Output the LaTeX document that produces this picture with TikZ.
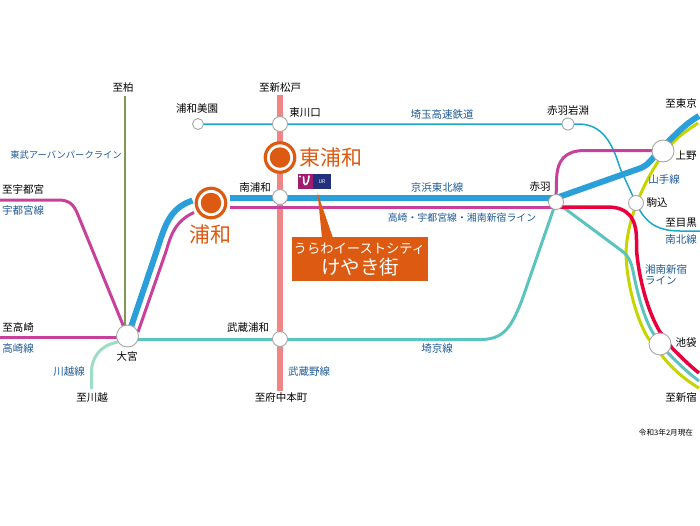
\documentclass[tikz,border=0pt]{standalone}
\usepackage{fontspec}
\setmainfont{Noto Sans CJK JP}
\definecolor{lblue}{HTML}{1F5A96}
\definecolor{orng}{HTML}{DD5A12}
\definecolor{keihin}{HTML}{2B9FD9}
\definecolor{mag}{HTML}{C9409A}
\definecolor{salmon}{HTML}{F08585}
\definecolor{saitama}{HTML}{1AA7C9}
\definecolor{saikyo}{HTML}{5CC4BE}
\definecolor{kawagoe}{HTML}{9EDCC4}
\definecolor{shonan}{HTML}{E8003C}
\definecolor{yama}{HTML}{C6D400}
\definecolor{tobu}{HTML}{7F9A50}
\definecolor{urmag}{HTML}{A01C6E}
\definecolor{urnavy}{HTML}{23307E}
\tikzset{
  stn/.style={circle,draw=black!35,line width=0.9pt,fill=white,inner sep=0pt,minimum size=#1},
  lab/.style={font=\fontsize{10.5}{12}\selectfont,text=black,inner sep=0pt},
  linelab/.style={font=\fontsize{10.5}{12}\selectfont,text=lblue,inner sep=0pt},
  big/.style={font=\fontsize{21}{23}\selectfont,text=orng,inner sep=0pt},
  rail/.style={line width=#1,line cap=butt},
  ringdot/.style={circle,fill=orng,inner sep=0pt,minimum size=20.5pt},
  ring/.style={circle,draw=orng,line width=3.2pt,fill=white,inner sep=0pt,minimum size=29.5pt}
}
\begin{document}
\begin{tikzpicture}[x=1pt,y=-1pt]
\useasboundingbox (0,0) rectangle (700,525);
% free ends
\coordinate (kashiwa) at (125,96);
\coordinate (tobuEnd) at (125,327);
\coordinate (matsudo) at (280,95);
\coordinate (fuchu) at (280,391);
\coordinate (meguro) at (700,231);
\coordinate (utsu) at (0,200);
\coordinate (taka) at (0,337.5);
\coordinate (kawaEnd) at (91.5,389);
\coordinate (keiA) at (192.5,200.5);
\coordinate (keiB) at (230,198);
\coordinate (magA) at (194,212.5);
\coordinate (magB) at (230,207);
\coordinate (tokyoK) at (699,116);
\coordinate (tokyoY) at (698,123);
\coordinate (ikeR) at (699,373);
\coordinate (ikeT) at (699,381);
\coordinate (ikeY) at (699,388);
% station positions
\path
 (198,124) coordinate (misono)
 (280,124) coordinate (higashikawa)
 (280,197) coordinate (minamiura)
 (280,339) coordinate (musashiura)
 (127.5,336) coordinate (omiya)
 (556,202) coordinate (akabane)
 (663,151) coordinate (ueno)
 (636,203) coordinate (komagome)
 (660,344) coordinate (ikebukuro)
 (568,124) coordinate (iwabuchi);
% lines
\draw[tobu,rail=1.2pt] (kashiwa) -- (tobuEnd);
\draw[salmon,rail=6pt] (matsudo) -- (fuchu);
\draw[saitama,rail=1.5pt] (misono) -- (iwabuchi) -- (578,124)
  .. controls (602,124) and (612,142) .. (620,168) -- (komagome)
  .. controls (644,220) and (654,231) .. (680,231) -- (meguro);
\draw[kawagoe,rail=3pt] (118,342) .. controls (100,345) and (91.5,358) .. (91.5,372) -- (kawaEnd);
\draw[mag,rail=3pt] (utsu) -- (58,200) .. controls (70,200) and (74,205) .. (78,215) -- (omiya);
\draw[mag,rail=3pt] (taka) -- (omiya |- taka);
\draw[saikyo,rail=3pt] (omiya |- 0,339.5) -- (481,339.5) .. controls (505,339.5) and (512,325) .. (522,300) -- (akabane);
\draw[keihin,rail=6pt] (131,327) -- (157,250) .. controls (165,225) and (170,208) .. (keiA);
\draw[mag,rail=3pt] (138,332) -- (166.5,250) .. controls (172,230) and (178,220) .. (magA);
\draw[mag,rail=3pt] (magB) -- (akabane |- magB);
\draw[mag,rail=3pt] (akabane) -- (556.5,180) .. controls (557,160) and (565,150.5) .. (585,150.5) -- (ueno |- 0,150.5);
\draw[yama,rail=3pt] (tokyoY) .. controls (688,130) and (678,136) .. (668,148) .. controls (650,170) and (626,215) .. (626,255)
  .. controls (627,285) and (637,320) .. (648,338) -- (663,357) .. controls (672,368) and (685,380) .. (ikeY);
\draw[saikyo,rail=3pt] (akabane) -- (622,251) .. controls (630,257) and (632,265) .. (634,276)
  .. controls (638,295) and (644,318) .. (653,333) -- (668,353) .. controls (677,362) and (688,373) .. (ikeT);
\draw[shonan,rail=3.5pt] (akabane |- 0,207) -- (607,207) .. controls (628,207) and (636.5,218) .. (636.5,240)
  -- (636.5,250) .. controls (639,280) and (648,312) .. (660,332) -- (672,348) .. controls (680,356) and (690,366) .. (ikeR);
\draw[keihin,rail=6pt] (keiB) -- (akabane |- keiB) -- (641,168) .. controls (650,164) and (652,158) .. (660,150)
  .. controls (675,135) and (685,124) .. (tokyoK);
% stations
\node[stn=11pt] (nMisono) at (misono) {};
\node[stn=15pt] (nHigashikawa) at (higashikawa) {};
\node[stn=15pt] (nMinamiura) at (minamiura) {};
\node[stn=15pt] (nMusashiura) at (musashiura) {};
\node[stn=22pt] (nOmiya) at (omiya) {};
\node[stn=15pt] (nAkabane) at (akabane) {};
\node[stn=22pt] (nUeno) at (ueno) {};
\node[stn=15pt] (nKomagome) at (komagome) {};
\node[stn=22pt] (nIkebukuro) at (ikebukuro) {};
\node[stn=12pt] (nIwabuchi) at (iwabuchi) {};
% destination stations
\node[ring] (higashiura) at (280,157.5) {};
\node[ringdot] (hdot) at (higashiura) {};
\node[ring] (urawa) at (211,203) {};
\node[ringdot] (udot) at (urawa) {};
% UR logo
\fill[urmag] (297.5,174) rectangle (313,188.7);
\fill[urnavy] (313,174) rectangle (330.7,188.7);
\draw[white,line width=1.6pt,line cap=round] (303.5,177) -- (304,183) .. controls (305,186) and (308,185.5) .. (309,176);
\fill[white] (300,176.5) circle (1.2pt);
\node[inner sep=0pt,text=white,font=\fontsize{5}{6}\selectfont] (urtext) at (322,182) {UR};
% callout
\node[draw=none,fill=orng,minimum width=136pt,minimum height=44pt,inner sep=0pt] (callout) at (360,259) {};
\coordinate (tip) at (317.5,193);
\fill[orng] (tip) -- (322,238) -- (333,238) -- cycle;
\node[inner sep=0pt,text=white,font=\fontsize{13.3}{15}\selectfont] (c1) at (359.5,249) {うらわイーストシティ};
\node[inner sep=0pt,text=white,font=\fontsize{19.5}{22}\selectfont] (c2) at (360,267.5) {けやき街};
% labels
\node[lab] (t1) at (123,88) {至柏};
\node[lab] (t2) at (197,109) {浦和美園};
\node[linelab,font=\fontsize{9.3}{11}\selectfont] (t3) at (66,155) {東武アーバンパークライン};
\node[lab] (t4) at (23,189) {至宇都宮};
\node[linelab] (t5) at (23,210) {宇都宮線};
\node[big] (t6) at (210,234) {浦和};
\node[lab] (t7) at (18,327) {至高崎};
\node[linelab] (t8) at (18,348) {高崎線};
\node[lab] (t9) at (127,356) {大宮};
\node[linelab] (t10) at (69,372) {川越線};
\node[lab] (t11) at (92,398) {至川越};
\node[lab] (t12) at (280,88) {至新松戸};
\node[lab] (t13) at (305,113) {東川口};
\node[linelab] (t14) at (442,115) {埼玉高速鉄道};
\node[big] (t15) at (331,157) {東浦和};
\node[lab] (t16) at (255,187) {南浦和};
\node[linelab] (t17) at (437,188) {京浜東北線};
\node[linelab,font=\fontsize{9.9}{11}\selectfont] (t18) at (462,218) {高崎・宇都宮線・湘南新宿ライン};
\node[lab] (t19) at (248,328) {武蔵浦和};
\node[linelab] (t20) at (437,349) {埼京線};
\node[linelab] (t21) at (309,372) {武蔵野線};
\node[lab] (t22) at (281,398) {至府中本町};
\node[lab] (t23) at (568,111) {赤羽岩淵};
\node[lab] (t24) at (681,104) {至東京};
\node[lab] (t25) at (686,156) {上野};
\node[linelab] (t26) at (664,180) {山手線};
\node[lab] (t27) at (540,187) {赤羽};
\node[lab] (t28) at (657,203) {駒込};
\node[lab] (t29) at (681,223) {至目黒};
\node[linelab] (t30) at (681,239) {南北線};
\node[linelab,anchor=west] (t31) at (645,270) {湘南新宿};
\node[linelab,anchor=west] (t32) at (645,281) {ライン};
\node[lab] (t33) at (686,343) {池袋};
\node[lab] (t34) at (681,398) {至新宿};
\node[inner sep=0pt,text=black,font=\fontsize{7.6}{9}\selectfont] (t35) at (666,433) {令和3年2月現在};
\end{tikzpicture}
\end{document}
